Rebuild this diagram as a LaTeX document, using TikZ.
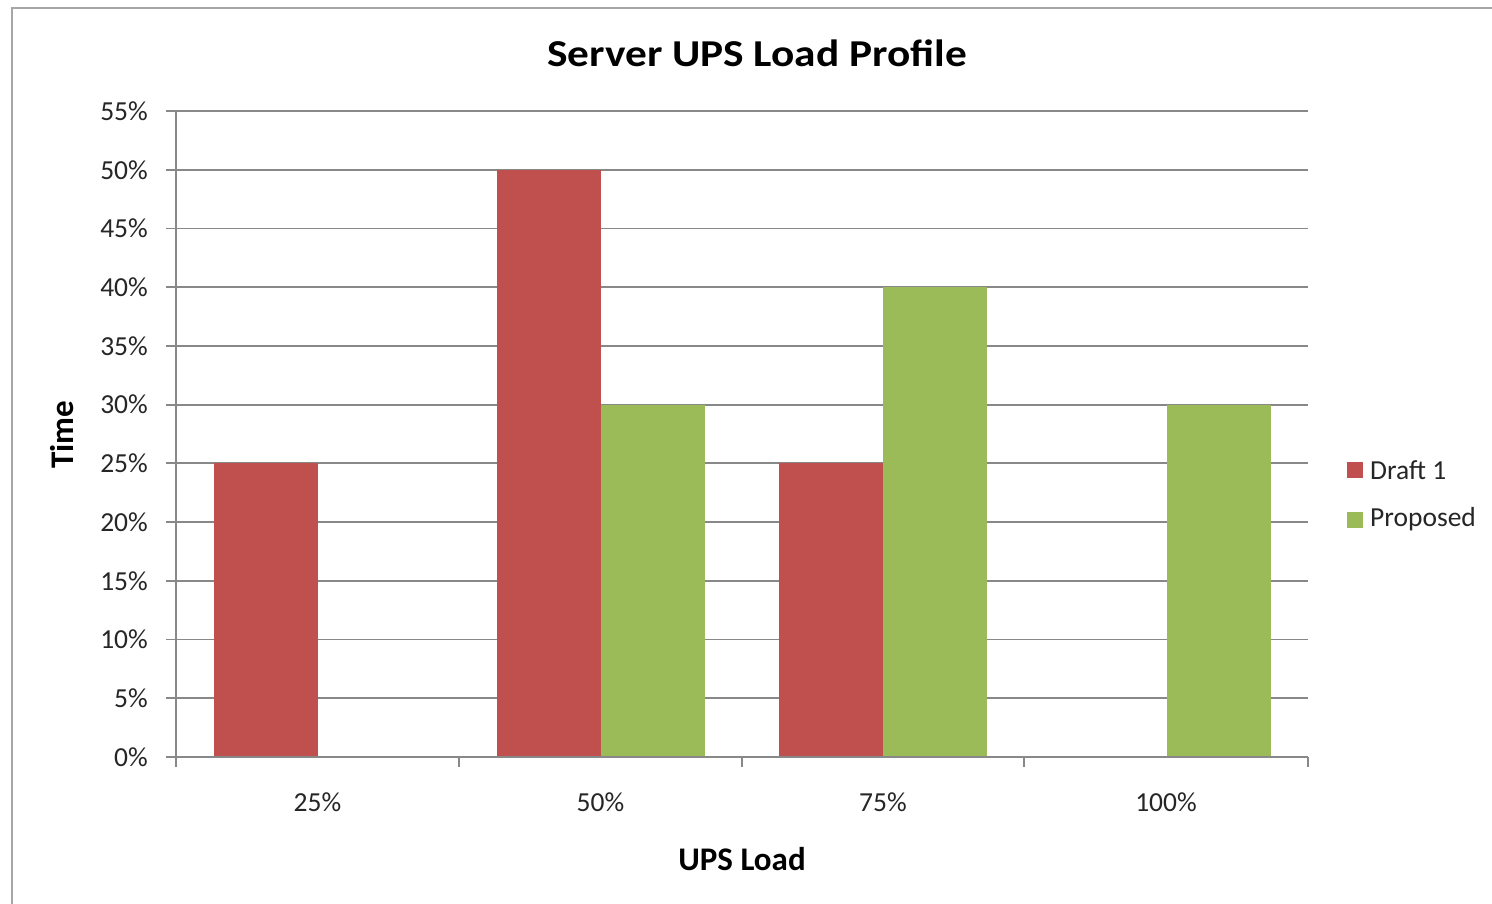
\documentclass[tikz,border=0pt]{standalone}
\usepackage{fontspec}
\usepackage{graphicx}
\setmainfont{Carlito}
\definecolor{barred}{HTML}{C0504D}
\definecolor{bargreen}{HTML}{9BBB59}
\definecolor{gridgray}{HTML}{888888}
\definecolor{framegray}{HTML}{A6A6A6}
\begin{document}
\begin{tikzpicture}[x=1pt,y=-1pt,
  gridline/.style={draw=gridgray,line width=1.8pt},
  axisline/.style={draw=gridgray,line width=1.8pt},
  ticklab/.style={font=\fontsize{27.5}{30}\selectfont,text=black!85,inner sep=0pt},
  axtitle/.style={font=\fontsize{33}{36}\selectfont\bfseries,inner sep=0pt},
  redbar/.style={fill=barred,draw=none},
  greenbar/.style={fill=bargreen,draw=none}]
\useasboundingbox (0,0) rectangle (1492,903);
\fill[white] (0,0) rectangle (1492,903);
% outer frame
\draw[framegray,line width=2pt] (12,910) -- (12,8) -- (1500,8);
% gridlines
\foreach \i in {1,...,11}{
  \draw[gridline] (166,{757-\i*58.727}) -- (1308,{757-\i*58.727});
}
% bars
\fill[redbar] (214,757) rectangle (318,{757-5*58.727});
\fill[redbar] (497,757) rectangle (601,{757-10*58.727});
\fill[greenbar] (601,757) rectangle (705,{757-6*58.727});
\fill[redbar] (779,757) rectangle (883,{757-5*58.727});
\fill[greenbar] (883,757) rectangle (987,{757-8*58.727});
\fill[greenbar] (1167,757) rectangle (1271,{757-6*58.727});
% axes
\draw[axisline] (176,111) -- (176,767);
\draw[axisline] (166,757) -- (1308,757);
\foreach \x in {459,742,1024,1308}{
  \draw[axisline] (\x,757) -- (\x,767);
}
% y tick labels
\foreach \i/\t in {0/0\%,1/5\%,2/10\%,3/15\%,4/20\%,5/25\%,6/30\%,7/35\%,8/40\%,9/45\%,10/50\%,11/55\%}{
  \node[ticklab,anchor=east] (y\i) at (148,{757-\i*58.727}) {\t};
}
% x tick labels
\node[ticklab] (x1) at (317.5,802) {25\%};
\node[ticklab] (x2) at (600.5,802) {50\%};
\node[ticklab] (x3) at (883,802) {75\%};
\node[ticklab] (x4) at (1166,802) {100\%};
% titles
\node[font=\fontsize{38}{42}\selectfont\bfseries,inner sep=0pt] (title) at (757,53) {\scalebox{1.14}[1]{Server UPS Load Profile}};
\node[axtitle] (xtitle) at (742,859) {UPS Load};
\node[axtitle,rotate=90] (ytitle) at (62,435) {Time};
% legend
\fill[barred] (1347,462) rectangle (1363,478);
\node[ticklab,anchor=west] (leg1) at (1370,470) {Draft 1};
\fill[bargreen] (1347,512) rectangle (1363,528);
\node[ticklab,anchor=west] (leg2) at (1370,519) {Proposed};
\end{tikzpicture}
\end{document}
